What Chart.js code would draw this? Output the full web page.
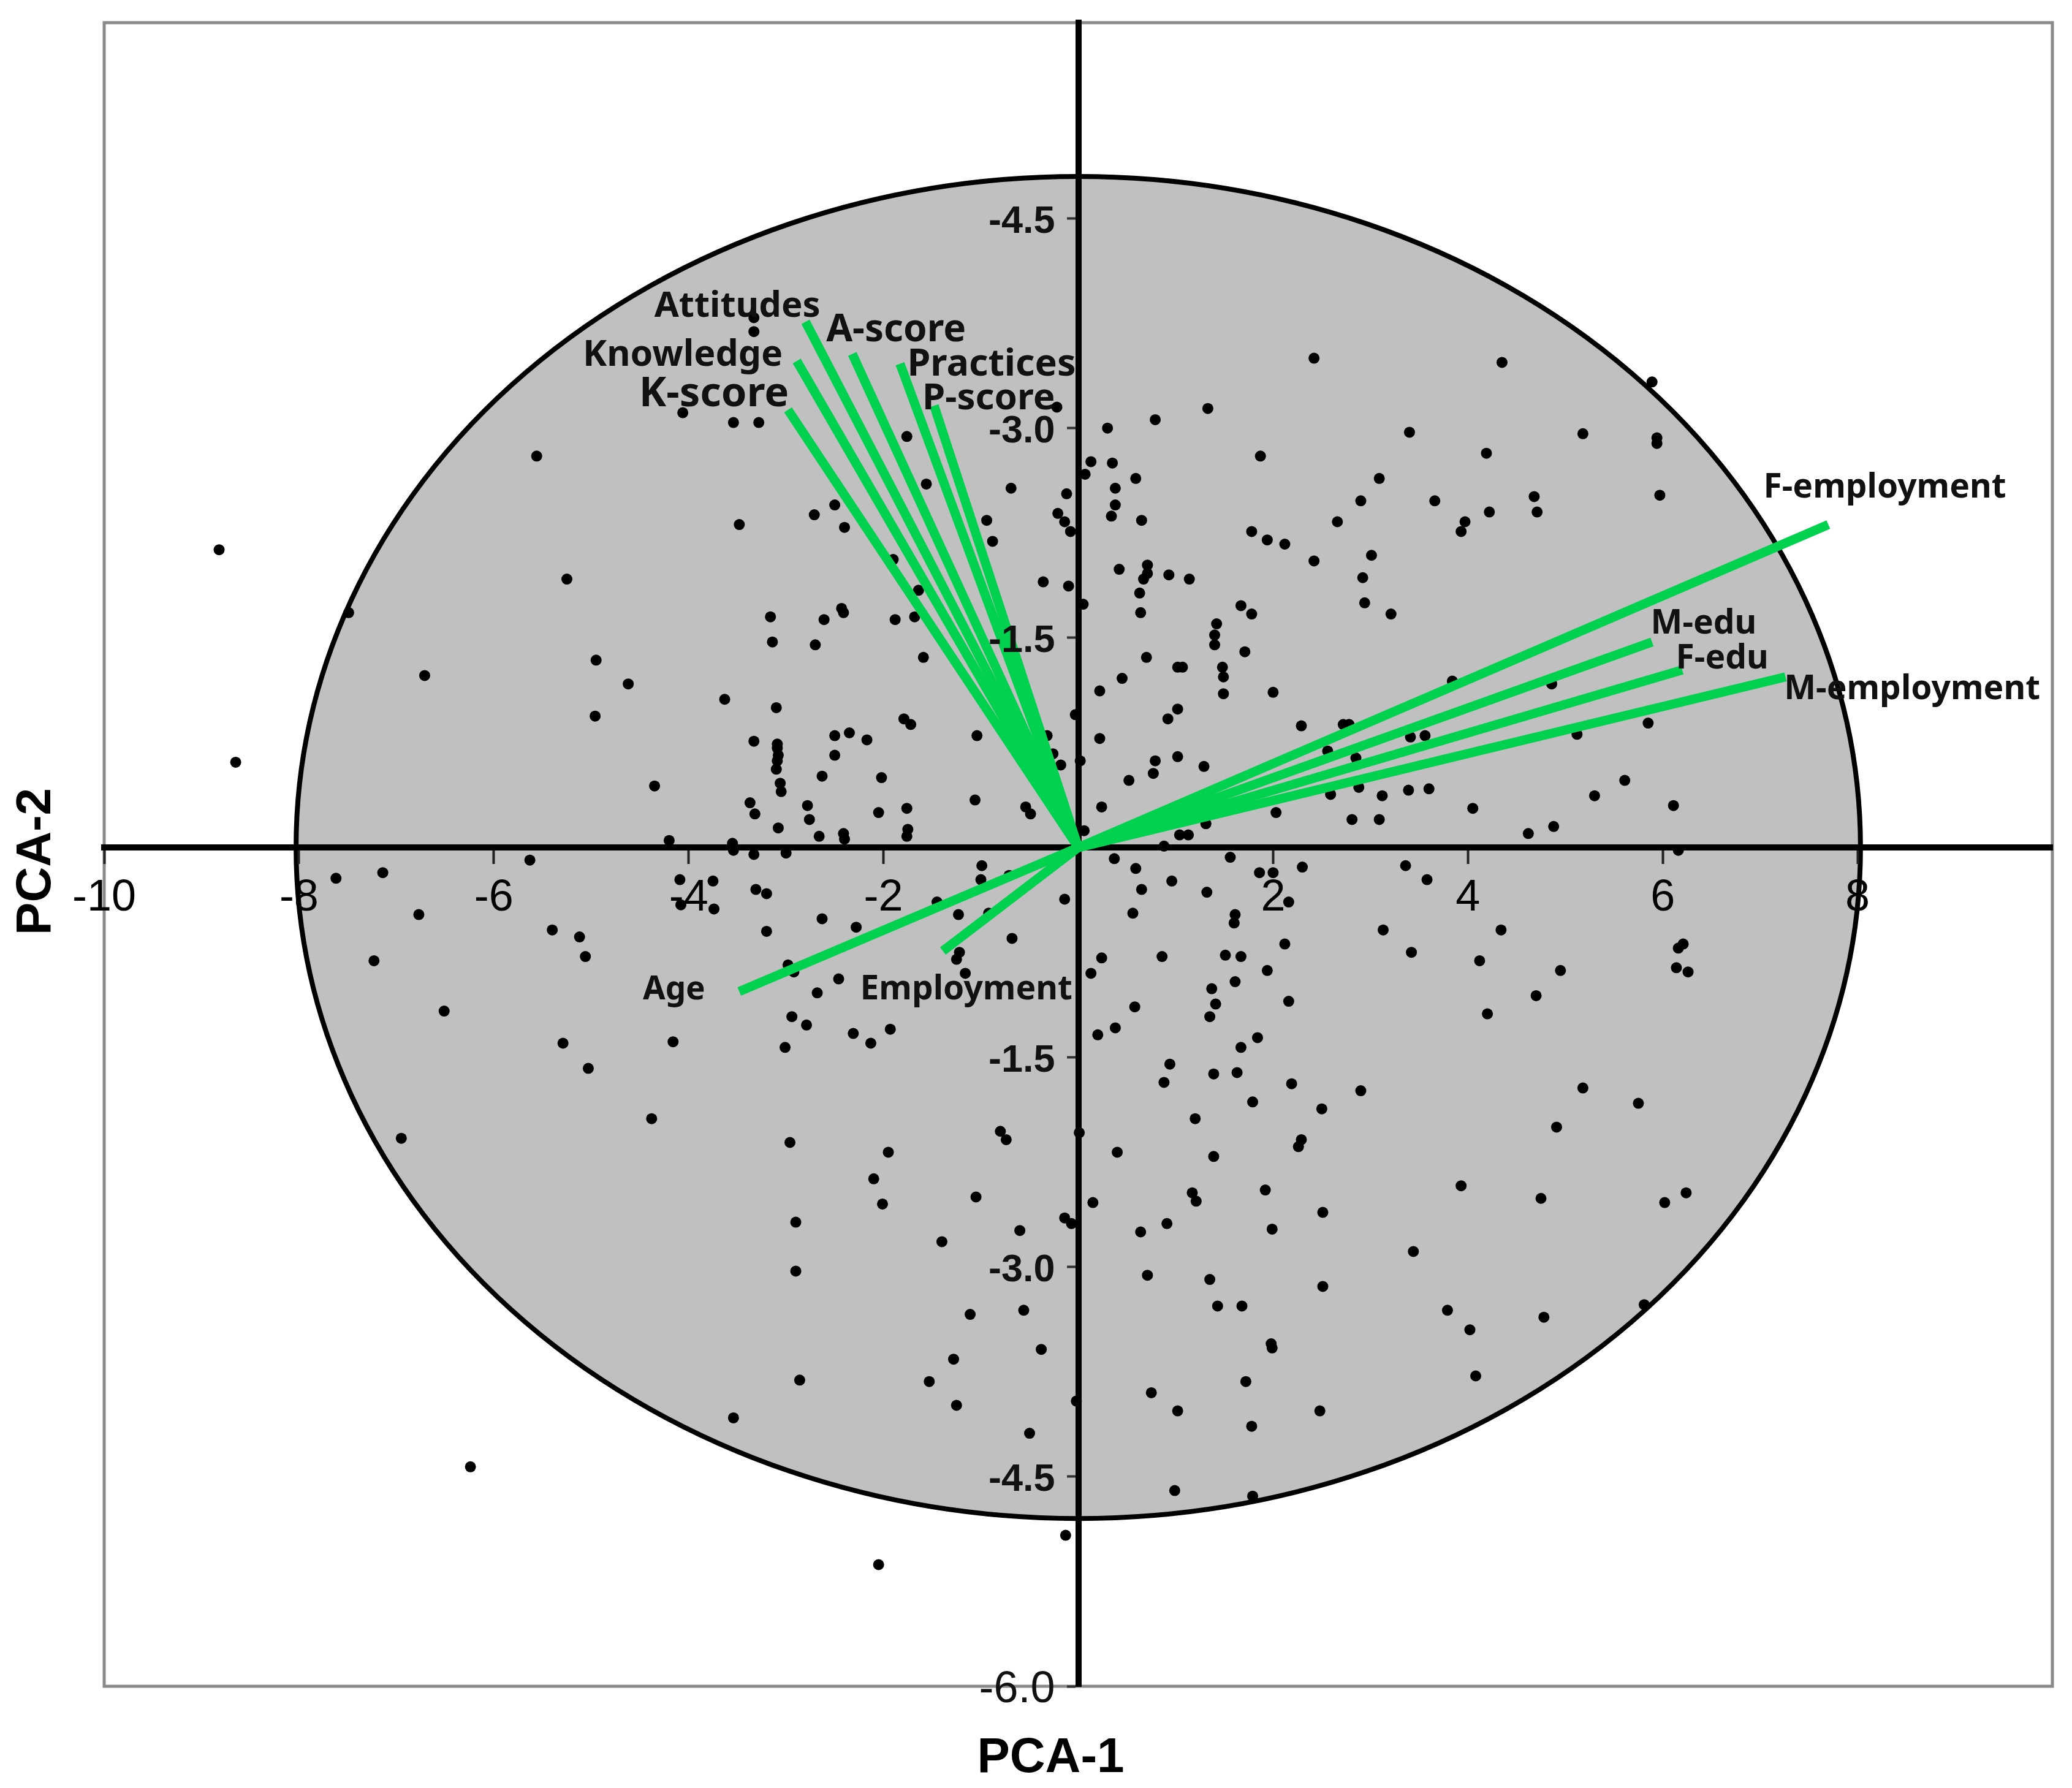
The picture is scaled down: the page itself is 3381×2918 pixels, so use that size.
<!DOCTYPE html>
<html>
<head>
<meta charset="utf-8">
<title>PCA biplot</title>
<script src="https://cdn.jsdelivr.net/npm/chart.js@4.4.1/dist/chart.umd.min.js"></script>
<style>
  html, body { margin: 0; padding: 0; background: #fff; }
  #wrap { width: 3381px; height: 2918px; position: relative; }
</style>
</head>
<body>
<div id="wrap"><canvas id="biplot"></canvas></div>
<script>
// individual scores (PCA-1, PCA-2)
const scoreX = [
  -3.33,-3.33,-4.06,-3.54,-3.28,-5.56,-8.82,-3.48,-5.25,-7.49,-3.16,-3.14,-4.95,-6.71,-4.62,-3.63,
  2.42,1.33,0.79,0.30,3.40,1.87,-1.76,-0.22,
  0.13,0.07,0.35,0.59,3.09,3.66,2.90,
  0.38,0.38,0.34,0.65,2.66,1.78,1.94,2.12,2.42,3.01,2.92,2.94,3.21,
  0.42,0.71,0.71,0.67,0.93,1.14,0.63,0.64,1.67,1.78,1.42,1.40,1.40,1.71,0.70,1.02,1.07,1.48,1.49,1.49,2.00,0.45,0.22,0.05,
  -0.12,-0.21,-0.14,-0.08,-0.10,-0.36,-0.69,-0.94,-0.88,-1.56,-2.50,-2.71,-2.40,-1.90,-1.64,-2.43,-2.41,-2.61,-2.70,-1.88,-1.68,-1.59,
  4.35,5.89,5.18,5.94,5.94,4.19,4.68,4.71,4.22,3.97,3.93,5.97,3.84,4.86,
  -8.65,-4.96,-3.33,-4.35,-3.37,-3.32,-4.20,-3.55,-3.54,-3.33,-5.63,-7.62,-7.14,-4.09,-3.75,-4.08,-3.74,-3.31,-3.20,-6.77,-3.20,-5.40,-5.12,-5.06,-7.23,-6.51,-5.29,-4.16,-5.03,-4.38,-6.95,
  -3.10,-3.09,-3.09,-3.08,-3.09,-3.10,-3.06,-3.05,-3.08,-2.78,-2.76,-2.66,-2.41,-2.40,-2.50,-2.35,-2.17,-2.50,-2.63,-2.02,-2.05,-1.76,-1.79,-1.72,-1.75,-1.76,-1.04,-1.06,-0.54,-0.49,-0.32,-0.26,-0.18,-0.03,0.02,0.06,0.22,0.24,0.52,0.79,0.77,0.92,1.02,1.02,1.29,1.04,1.13,1.31,0.88,2.29,2.72,2.78,2.56,2.85,3.41,3.56,2.03,2.59,2.88,3.12,3.39,3.60,2.81,3.09,
  -3.00,-0.99,-1.00,-0.71,-1.45,-2.63,-2.28,-1.23,-0.92,-0.14,-0.68,-1.22,-1.25,-1.16,-2.98,-2.92,-2.46,-2.68,-2.94,-2.79,-2.31,-2.13,-1.93,-3.01,
  0.37,0.59,0.65,0.56,0.96,1.32,1.56,1.86,2.00,2.30,2.16,1.61,1.60,3.36,3.58,3.13,3.42,2.12,1.51,1.67,0.86,0.24,0.13,1.94,1.61,1.37,1.41,1.35,2.16,0.58,0.20,0.38,1.84,1.67,0.94,0.88,1.39,1.63,2.19,2.90,1.79,2.50,1.20,2.29,2.26,0.40,1.39,0.01,-0.80,-0.74,-2.96,-1.95,-2.10,-2.01,-1.05,-2.90,-0.14,-0.07,-0.60,-1.40,0.15,1.17,1.21,1.92,2.51,0.91,0.64,1.99,
  5.12,5.85,4.05,4.62,4.88,5.30,5.61,6.11,6.16,4.34,4.12,4.95,4.70,4.20,6.21,6.16,6.14,6.26,5.18,5.75,4.91,3.93,4.75,6.02,6.24,
  -6.24,-3.54,
  -2.90,-1.11,-0.56,-0.38,-1.28,-2.86,-1.53,-1.25,-0.02,-0.50,-0.13,-2.05,0.71,1.35,2.51,3.44,1.43,1.68,1.98,1.99,0.75,1.72,1.02,2.48,1.78,0.99,1.79,
  3.79,4.02,4.78,4.08,5.81
];
const scoreY = [
  3.79,3.69,3.11,3.04,3.04,2.80,2.13,2.31,1.92,1.68,1.65,1.47,1.34,1.23,1.17,1.06,
  3.50,3.14,3.06,3.00,2.97,2.80,2.94,3.15,
  2.76,2.67,2.75,2.64,2.64,2.48,2.48,
  2.57,2.45,2.37,2.34,2.33,2.26,2.20,2.17,2.05,2.09,1.93,1.75,1.67,
  1.99,2.02,1.96,1.92,1.95,1.92,1.82,1.68,1.73,1.67,1.60,1.52,1.45,1.40,1.36,1.29,1.29,1.29,1.22,1.10,1.11,1.21,1.12,1.74,
  2.53,2.39,2.33,2.26,1.87,1.90,2.57,2.34,2.19,2.60,2.45,2.38,2.29,2.06,1.84,1.71,1.68,1.63,1.45,1.63,1.65,1.36,
  3.47,3.33,2.96,2.93,2.89,2.82,2.51,2.40,2.40,2.33,2.26,2.52,1.19,1.17,
  0.61,0.94,0.76,0.44,0.32,0.24,0.05,0.03,-0.02,-0.05,-0.09,-0.22,-0.18,-0.23,-0.24,-0.41,-0.44,-0.30,-0.33,-0.48,-0.60,-0.59,-0.64,-0.78,-0.81,-1.17,-1.40,-1.39,-1.58,-1.94,-2.08,
  1.00,0.74,0.71,0.66,0.62,0.56,0.46,0.40,0.14,0.30,0.20,0.08,0.10,0.06,0.80,0.82,0.77,0.66,0.51,0.50,0.25,0.28,0.92,0.88,0.13,0.08,0.80,0.34,0.29,0.24,0.80,0.67,0.59,0.95,0.62,0.12,0.78,0.29,0.48,0.62,0.53,0.92,0.99,0.65,0.58,0.09,0.09,0.17,0.01,0.87,0.88,0.88,0.69,0.64,0.79,0.80,0.25,0.38,0.43,0.37,0.41,0.42,0.20,0.20,
  -0.04,-0.13,-0.23,-0.20,-0.39,-0.51,-0.57,-0.48,-0.47,-0.37,-0.65,-0.75,-0.80,-0.90,-0.84,-0.89,-0.94,-1.04,-1.21,-1.27,-1.33,-1.40,-1.30,-1.43,
  -0.08,-0.15,-0.30,-0.47,-0.24,-0.32,-0.07,-0.18,-0.18,-0.14,-0.39,-0.48,-0.54,-0.13,-0.23,-0.59,-0.75,-0.69,-0.77,-0.78,-0.78,-0.79,-0.90,-0.88,-0.96,-1.01,-1.12,-1.21,-1.10,-1.14,-1.34,-1.29,-1.36,-1.43,-1.55,-1.68,-1.62,-1.61,-1.69,-1.74,-1.82,-1.87,-1.94,-2.09,-2.14,-2.18,-2.21,-2.04,-2.03,-2.09,-2.11,-2.18,-2.37,-2.55,-2.50,-2.68,-2.65,-2.69,-2.74,-2.82,-2.54,-2.47,-2.53,-2.45,-2.61,-2.69,-2.75,-2.73,
  0.81,0.89,0.28,0.10,0.15,0.37,0.48,0.30,-0.02,-0.59,-0.81,-0.88,-1.06,-1.19,-0.69,-0.72,-0.86,-0.89,-1.72,-1.83,-2.00,-2.42,-2.51,-2.54,-2.47,
  -4.43,-4.08,
  -3.03,-3.34,-3.31,-3.59,-3.66,-3.81,-3.82,-3.99,-3.96,-4.19,-4.92,-5.13,-3.06,-3.09,-3.14,-2.89,-3.28,-3.28,-3.55,-3.58,-3.90,-3.82,-4.03,-4.03,-4.14,-4.60,-4.64,
  -3.31,-3.45,-3.36,-3.78,-3.27
];

// variable loadings (arrow tips)
const loadingNames = ['Attitudes', 'Knowledge', 'K-score', 'A-score', 'Practices', 'P-score',
                      'F-employment', 'M-edu', 'F-edu', 'M-employment', 'Age', 'Employment'];
const loadingX = [-2.80, -2.89, -2.98, -2.32, -1.83, -1.48, 7.70, 5.89, 6.20, 7.26, -3.48, -1.39];
const loadingY = [3.76, 3.48, 3.13, 3.53, 3.46, 3.16, 2.31, 1.47, 1.27, 1.22, -1.03, -0.74];

// axes
const xTicks = [-10, -8, -6, -4, -2, 2, 4, 6, 8];
const yTicks = [-6, -4.5, -3, -1.5, 1.5, 3, 4.5];
const yTickLabels = ['-6.0', '-4.5', '-3.0', '-1.5', '-1.5', '-3.0', '-4.5'];

// confidence ellipse: centre and semi-axes
const ellipseCentre = [0, 0];
const ellipseRadii = [8.03, 4.8];

// where each arrow label sits (data units) and how big it is
const labelStyle = {
  'Attitudes':    { x: -3.50, y: 3.87, size: 58 },
  'Knowledge':    { x: -4.06, y: 3.52, size: 59 },
  'K-score':      { x: -3.74, y: 3.24, size: 67 },
  'A-score':      { x: -1.87, y: 3.70, size: 62 },
  'Practices':    { x: -0.89, y: 3.45, size: 61 },
  'P-score':      { x: -0.92, y: 3.21, size: 60 },
  'F-employment': { x: 8.28, y: 2.57, size: 55 },
  'M-edu':        { x: 6.42, y: 1.60, size: 55 },
  'F-edu':        { x: 6.61, y: 1.35, size: 55 },
  'M-employment': { x: 8.56, y: 1.13, size: 55 },
  'Age':          { x: -4.15, y: -1.02, size: 53 },
  'Employment':   { x: -1.15, y: -1.02, size: 55 }
};

const GREEN = '#00d24f';
const NARROW = "'Liberation Sans Narrow', 'Arial Narrow', 'Liberation Sans', Arial, sans-serif";
const SANS = "'Liberation Sans', Arial, sans-serif";

const biplotDecor = {
  id: 'biplotDecor',
  beforeDraw(chart) {
    const { ctx, chartArea: a, scales: { x, y } } = chart;
    ctx.save();
    // shaded ellipse
    const cx = x.getPixelForValue(ellipseCentre[0]);
    const cy = y.getPixelForValue(ellipseCentre[1]);
    const rx = x.getPixelForValue(ellipseCentre[0] + ellipseRadii[0]) - cx;
    const ry = cy - y.getPixelForValue(ellipseCentre[1] + ellipseRadii[1]);
    ctx.beginPath();
    ctx.ellipse(cx, cy, rx, ry, 0, 0, Math.PI * 2);
    ctx.fillStyle = '#c0c0c0';
    ctx.fill();
    ctx.lineWidth = 8;
    ctx.strokeStyle = '#000';
    ctx.stroke();
    // outer frame
    ctx.lineWidth = 5;
    ctx.strokeStyle = '#8a8a8a';
    ctx.strokeRect(a.left, a.top, a.right - a.left, a.bottom - a.top);
    ctx.restore();
  },
  afterDatasetsDraw(chart) {
    const { ctx, chartArea: a, scales: { x, y } } = chart;
    ctx.save();
    ctx.fillStyle = '#111';
    ctx.textAlign = 'center';
    ctx.textBaseline = 'middle';
    loadingNames.forEach(name => {
      const s = labelStyle[name];
      ctx.font = `bold ${s.size}px 'Noto Sans', 'Open Sans', sans-serif`;
      ctx.fillText(name, x.getPixelForValue(s.x), y.getPixelForValue(s.y));
    });

    // y tick labels, left of the vertical axis
    const axisX = x.getPixelForValue(0);
    ctx.textAlign = 'right';
    yTicks.forEach((v, i) => {
      ctx.font = v === -6 ? `72px ${NARROW}` : `bold 63px ${SANS}`;
      ctx.fillText(yTickLabels[i], axisX - 38, y.getPixelForValue(v) + 6);
    });

    // axis titles
    ctx.fillStyle = '#000';
    ctx.font = `bold 80px ${SANS}`;
    ctx.textAlign = 'center';
    ctx.fillText('PCA-1', (a.left + a.right) / 2 - 45, a.bottom + 118);
    ctx.translate(a.left - 110, y.getPixelForValue(-0.1));
    ctx.rotate(-Math.PI / 2);
    ctx.fillText('PCA-2', 0, 0);
    ctx.restore();
  }
};

const datasets = [{
  label: 'scores',
  data: scoreX.map((v, i) => ({ x: v, y: scoreY[i] })),
  pointRadius: 9,
  pointBackgroundColor: '#000',
  pointBorderWidth: 0,
  order: 2
}];
loadingNames.forEach((name, i) => {
  datasets.push({
    label: name,
    data: [{ x: 0, y: 0 }, { x: loadingX[i], y: loadingY[i] }],
    showLine: true,
    borderColor: GREEN,
    borderWidth: 15,
    borderCapStyle: 'butt',
    pointRadius: 0,
    order: 1
  });
});

new Chart(document.getElementById('biplot'), {
  type: 'scatter',
  data: { datasets },
  options: {
    responsive: true,
    maintainAspectRatio: false,
    animation: false,
    devicePixelRatio: 1,
    layout: { padding: { left: 170, right: 32, top: 37, bottom: 166 } },
    plugins: { legend: { display: false }, tooltip: { enabled: false } },
    scales: {
      x: {
        type: 'linear',
        min: -10,
        max: 10,
        position: { y: 0 },
        afterBuildTicks: s => { s.ticks = xTicks.map(v => ({ value: v })); },
        ticks: {
          autoSkip: false,
          maxRotation: 0,
          padding: 18,
          color: '#000',
          font: { family: NARROW, size: 72 }
        },
        grid: { drawOnChartArea: false, drawTicks: true, tickLength: 22, tickWidth: 4, tickColor: '#222' },
        border: { display: true, color: '#000', width: 10 }
      },
      y: {
        type: 'linear',
        min: -6,
        max: 5.9,
        position: { x: 0 },
        afterBuildTicks: s => { s.ticks = yTicks.map(v => ({ value: v })); },
        ticks: { display: false },
        grid: { drawOnChartArea: false, drawTicks: true, tickLength: 14, tickWidth: 4, tickColor: '#333' },
        border: { display: true, color: '#000', width: 10 }
      }
    }
  },
  plugins: [biplotDecor]
});
</script>
</body>
</html>
